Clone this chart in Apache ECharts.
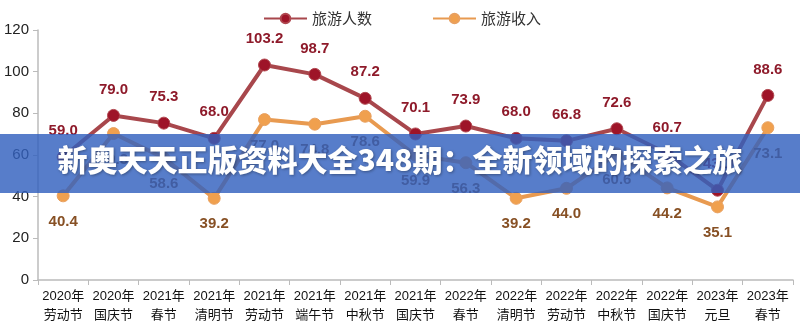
<!DOCTYPE html>
<html><head><meta charset="utf-8">
<script src="https://cdn.jsdelivr.net/npm/echarts@6/dist/echarts.min.js"></script>
<style>html,body{margin:0;padding:0;background:#fff}#c{width:800px;height:327px}</style>
</head><body><div id="c"></div>
<script>
var categories = ['2020年\n劳动节','2020年\n国庆节','2021年\n春节','2021年\n清明节','2021年\n劳动节','2021年\n端午节','2021年\n中秋节','2021年\n国庆节','2022年\n春节','2022年\n清明节','2022年\n劳动节','2022年\n中秋节','2022年\n国庆节','2023年\n元旦','2023年\n春节'];
var visitors = [59.0,79.0,75.3,68.0,103.2,98.7,87.2,70.1,73.9,68.0,66.8,72.6,60.7,43.1,88.6];
var revenue = [40.4,70.3,58.6,39.2,77.0,74.8,78.6,59.9,56.3,39.2,44.0,60.6,44.2,35.1,73.1];
var yTicks = [0,20,40,60,80,100,120];
var bannerText = '新奥天天正版资料大全348期：全新领域的探索之旅';

var chart = echarts.init(document.getElementById('c'), null, {renderer:'canvas'});
chart.setOption({
  animation:false,
  legend:{left:258, top:6, itemWidth:43, itemHeight:12, itemGap:60,
    textStyle:{fontSize:15, color:'#333', fontFamily:'Noto Sans CJK SC'},
    data:['旅游人数','旅游收入']},
  grid:{left:38, right:7, top:30, bottom:47},
  xAxis:{type:'category', data:categories, boundaryGap:true,
    axisLine:{lineStyle:{color:'#bbb', width:1.5}},
    axisTick:{show:true, length:5, lineStyle:{color:'#bbb'}},
    axisLabel:{color:'#111', fontSize:13, lineHeight:19, margin:7, interval:0, fontFamily:'Liberation Sans, Noto Sans CJK SC'}},
  yAxis:{type:'value', min:yTicks[0], max:yTicks[yTicks.length-1], interval:20,
    splitLine:{show:false},
    axisLine:{show:true, lineStyle:{color:'#bbb', width:1.5}},
    axisTick:{show:true, length:5, lineStyle:{color:'#bbb'}},
    axisLabel:{color:'#222', fontSize:15, margin:9, fontFamily:'Liberation Sans'}},
  series:[
    {name:'旅游人数', type:'line', data:visitors, symbol:'circle', symbolSize:12,
      lineStyle:{color:'#a8474c', width:4}, itemStyle:{color:'#9e1428', borderColor:'#b0474f', borderWidth:1},
      label:{show:true, position:'top', distance:12, formatter:function(p){return p.value.toFixed(1);},
        color:'#8e1a2a', fontSize:15, fontWeight:'bold', fontFamily:'Liberation Sans'}, z:3},
    {name:'旅游收入', type:'line', data:revenue, symbol:'circle', symbolSize:12,
      lineStyle:{color:'#e89a50', width:4}, itemStyle:{color:'#f0a04e', borderColor:'#e8a060', borderWidth:1},
      label:{show:true, position:'bottom', distance:12, formatter:function(p){return p.value.toFixed(1);},
        color:'#875024', fontSize:15, fontWeight:'bold', fontFamily:'Liberation Sans'}, z:2}
  ],
  graphic:[
    {type:'rect', left:0, top:134, shape:{width:800, height:59}, style:{fill:'rgba(50,96,190,0.82)'}, z:100},
    {type:'text', left:'center', top:145, z:101,
      style:{text:bannerText, fill:'#fff', fontSize:30, fontWeight:900, fontFamily:'Noto Sans CJK SC',
        textShadowColor:'rgba(0,0,0,0.35)', textShadowBlur:3, textShadowOffsetX:1, textShadowOffsetY:1}}
  ]
});
</script></body></html>
